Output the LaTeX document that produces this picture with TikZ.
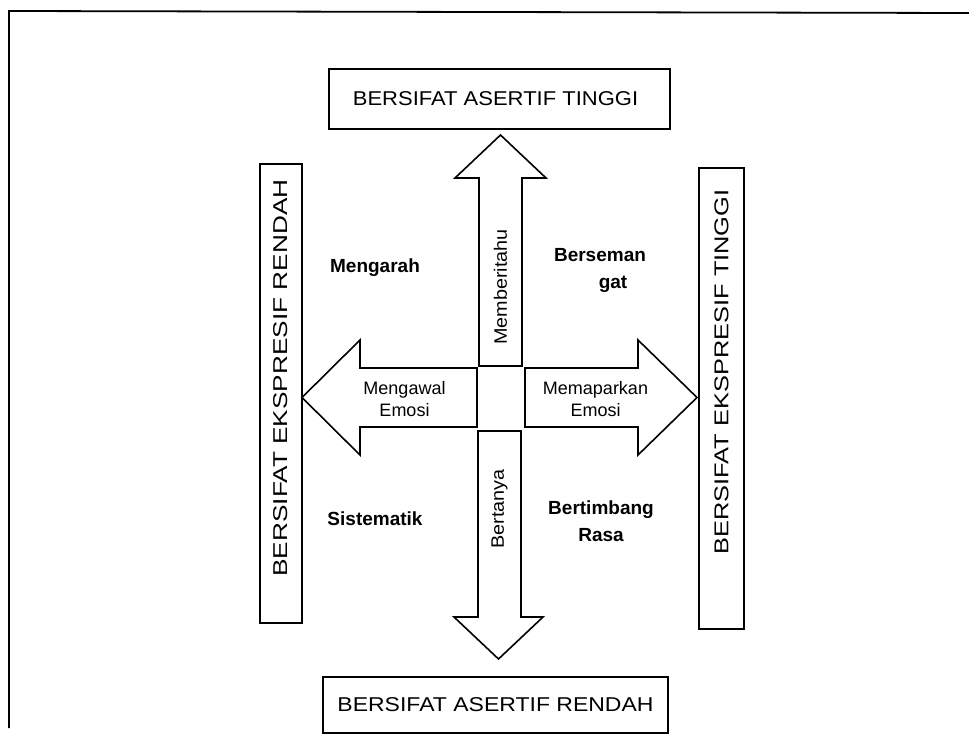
\documentclass[tikz,border=0pt]{standalone}
\usepackage{fontspec}
\setmainfont{Liberation Sans}
\begin{document}
\begin{tikzpicture}[x=1pt,y=-1pt,
  boxline/.style={draw=black,line width=1.8pt},
  arrowshape/.style={draw=black,line width=1.6pt,line join=miter,fill=white},
  boxtext/.style={font=\fontsize{20}{22}\selectfont,inner sep=0pt},
  vboxtext/.style={font=\fontsize{20}{22}\selectfont,inner sep=0pt,rotate=90},
  quadtext/.style={font=\fontsize{19}{27}\selectfont\bfseries,align=center,inner sep=0pt},
  arrowtext/.style={font=\fontsize{18}{22}\selectfont,align=center,inner sep=0pt},
  vlabel/.style={font=\fontsize{18}{20}\selectfont,inner sep=0pt,rotate=90}]
\useasboundingbox (0,0) rectangle (969,736);
\fill[white] (0,0) rectangle (969,736);
% outer frame (top and left edges)
\coordinate (fTL) at (9,11);
\coordinate (fTR) at (969,13);
\coordinate (fBL) at (9,728);
\draw[line width=1.8pt] (fTR) -- (fTL) -- (fBL);
% boxes
\draw[boxline] (329,69) rectangle (670,129);
\node[boxtext] (topbox) at (495.5,99) {\scalebox{1.1}[1]{BERSIFAT ASERTIF TINGGI}};
\draw[boxline] (323,677) rectangle (668,733);
\node[boxtext] (botbox) at (495.5,705) {\scalebox{1.15}[1]{BERSIFAT ASERTIF RENDAH}};
\draw[boxline] (260,164) rectangle (302,623);
\node[vboxtext] (leftbox) at (281,378) {\scalebox{1.31}[1]{BERSIFAT EKSPRESIF RENDAH}};
\draw[boxline] (699,168) rectangle (744,629);
\node[vboxtext] (rightbox) at (721.5,372) {\scalebox{1.27}[1]{BERSIFAT EKSPRESIF TINGGI}};
% arrows
\draw[arrowshape] (479,366) -- (479,178) -- (455,178) -- (500.5,135) -- (546,178) -- (522,178) -- (522,366) -- cycle;
\draw[arrowshape] (478,431) -- (478,617) -- (454,617) -- (498.5,659) -- (543,617) -- (521,617) -- (521,431) -- cycle;
\draw[arrowshape] (477,368) -- (360,368) -- (360,340) -- (302,397.5) -- (360,455) -- (360,427) -- (477,427) -- cycle;
\draw[arrowshape] (525,368) -- (638,368) -- (638,340) -- (697,397.5) -- (638,455) -- (638,427) -- (525,427) -- cycle;
% arrow labels
\node[vlabel] (lblup) at (500.5,287) {\scalebox{1.1}[1]{Memberitahu}};
\node[vlabel] (lbldown) at (499.5,509) {\scalebox{1.1}[1]{Bertanya}};
\node[arrowtext] (lblleft) at (404.5,399) {Mengawal\\Emosi};
\node[arrowtext] (lblright) at (595.5,399) {Memaparkan\\Emosi};
% quadrant labels
\node[quadtext] (q1) at (375,268) {Mengarah};
\node[quadtext] (q2) at (600,270) {Berseman\\\hspace*{26pt}gat};
\node[quadtext] (q3) at (375,519) {Sistematik};
\node[quadtext] (q4) at (601,521) {Bertimbang\\Rasa};
\end{tikzpicture}
\end{document}
